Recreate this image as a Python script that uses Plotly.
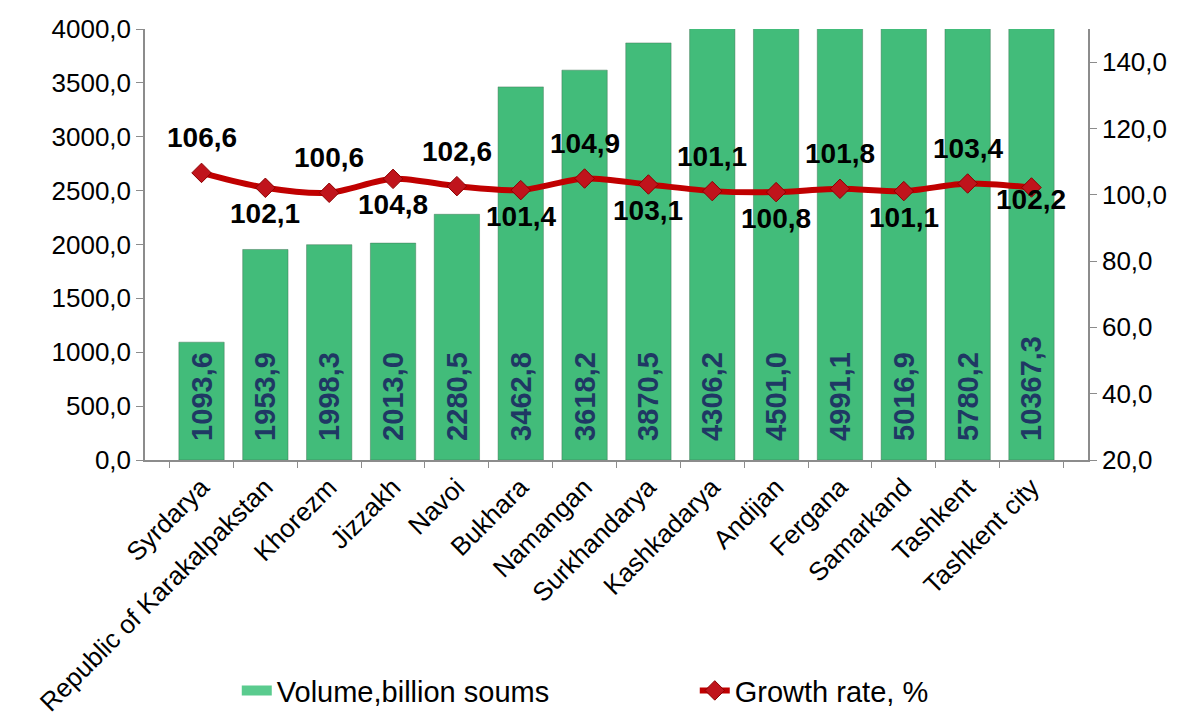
import plotly.graph_objects as go

categories = ["Syrdarya", "Republic of Karakalpakstan", "Khorezm", "Jizzakh", "Navoi",
              "Bukhara", "Namangan", "Surkhandarya", "Kashkadarya", "Andijan",
              "Fergana", "Samarkand", "Tashkent", "Tashkent city"]
volume = [1093.6, 1953.9, 1998.3, 2013.0, 2280.5, 3462.8, 3618.2, 3870.5,
          4306.2, 4501.0, 4991.1, 5016.9, 5780.2, 10367.3]
growth = [106.6, 102.1, 100.6, 104.8, 102.6, 101.4, 104.9, 103.1,
          101.1, 100.8, 101.8, 101.1, 103.4, 102.2]
label_side = ["up", "down", "up", "down", "up", "down", "up", "down",
              "up", "down", "up", "down", "up", "last"]

BAR_GREEN = "#42BC7A"


def fmt(v):
    return f"{v:.1f}".replace(".", ",")


fig = go.Figure()
fig.add_trace(go.Bar(
    x=categories, y=volume, name="Volume,billion soums", showlegend=False,
    marker=dict(color=BAR_GREEN, line=dict(color="rgba(60,110,80,0.45)", width=1)),
    text=["\u00a0\u00a0" + fmt(v) for v in volume], textposition="inside",
    insidetextanchor="start",
    textangle=-90, textfont=dict(family="Liberation Sans", size=29, color="#1F3864",
                                  weight="bold"),
    cliponaxis=True,
))
# legend proxy for the bars (wide green rectangle)
fig.add_trace(go.Scatter(
    x=[None], y=[None], mode="lines", name="Volume,billion soums",
    line=dict(color="#5ACB8E", width=11),
))
fig.add_trace(go.Scatter(
    x=categories, y=growth, name="Growth rate, %", yaxis="y2", mode="lines+markers",
    line=dict(color="#C00000", width=6, shape="spline", smoothing=0.8),
    marker=dict(symbol="diamond", size=15, color="#C0141C",
                line=dict(color="#8B0000", width=1)),
))

shifts = {"up": 35, "down": -26, "last": -12}
for c, g, s in zip(categories, growth, label_side):
    fig.add_annotation(x=c, y=g, yref="y2", text=fmt(g), showarrow=False,
                       yshift=shifts[s],
                       font=dict(family="Liberation Sans", size=28, color="black",
                                 weight="bold"))

axis_font = dict(family="Liberation Sans", size=26, color="black")
fig.update_layout(
    width=1173, height=710,
    margin=dict(l=137, r=93, t=21, b=258, autoexpand=False),
    paper_bgcolor="white", plot_bgcolor="white",
    separators=",.",
    bargap=0.29,
    xaxis=dict(tickangle=-45, tickfont=dict(family="Liberation Sans", size=26,
                                            color="black"),
               showline=True, linecolor="#8C8C8C", automargin=False,
               linewidth=1.5, ticks="outside", tickson="boundaries", ticklen=6,
               tickcolor="#8C8C8C", showgrid=False),
    yaxis=dict(range=[0, 4000], dtick=500, tickformat=".1f", tickfont=axis_font,
               showline=True, linecolor="#8C8C8C", linewidth=1.5, ticks="outside",
               automargin=False,
               ticklen=7, tickcolor="#8C8C8C", showgrid=False, zeroline=False),
    yaxis2=dict(range=[20, 150], tickvals=[20, 40, 60, 80, 100, 120, 140],
                tickformat=".1f", tickfont=axis_font, overlaying="y", side="right",
                automargin=False,
                showline=True, linecolor="#8C8C8C", linewidth=1.5, ticks="outside",
                ticklen=7, tickcolor="#8C8C8C", showgrid=False, zeroline=False),
    legend=dict(orientation="h", x=0.583, xanchor="center", y=-0.535, yanchor="middle",
                font=dict(family="Liberation Sans", size=29, color="black"),
                entrywidth=413, itemwidth=30),
    showlegend=True,
)

fig.write_html("out.html")
